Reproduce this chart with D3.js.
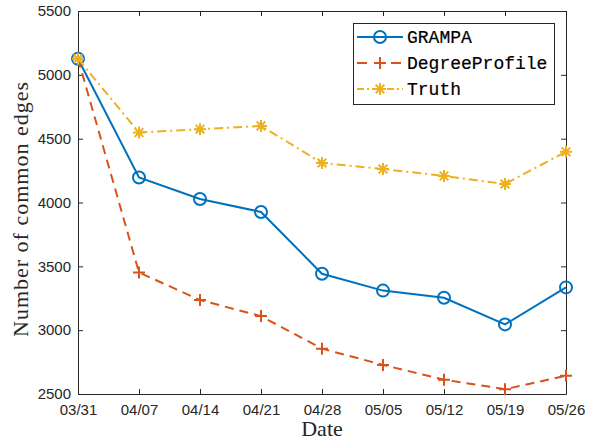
<!DOCTYPE html>
<html>
<head>
<meta charset="utf-8">
<script src="https://cdn.jsdelivr.net/npm/d3@7/dist/d3.min.js"></script>
<style>
  html, body { margin: 0; padding: 0; background: #fff; }
  svg { display: block; }
</style>
</head>
<body>
<svg id="chart" width="589" height="442"></svg>
<script>
// Weekly snapshot dates
const dates = ["03/31", "04/07", "04/14", "04/21", "04/28", "05/05", "05/12", "05/19", "05/26"];
// Number of common edges per method
const grampa        = [5126, 4196, 4028, 3926, 3442, 3310, 3254, 3045, 3335];
const degreeProfile = [5126, 3452, 3236, 3110, 2855, 2728, 2612, 2538, 2643];
const truth         = [5126, 4548, 4574, 4600, 4310, 4262, 4208, 4145, 4398];
const yTicks = [2500, 3000, 3500, 4000, 4500, 5000, 5500];

const series = [
  { name: "GRAMPA", values: grampa, color: "#0072BD", dash: null, marker: "circle" },
  { name: "DegreeProfile", values: degreeProfile, color: "#D95319", dash: "9,6", marker: "plus" },
  { name: "Truth", values: truth, color: "#EDB120", dash: "9,4,2,4", marker: "star" }
];

const svg = d3.select("#chart");
const plot = { left: 78, right: 566, top: 11, bottom: 394 };
const axisColor = "#262626";

const x = d3.scalePoint().domain(dates).range([plot.left, plot.right]);
const y = d3.scaleLinear().domain([2500, 5500]).range([plot.bottom, plot.top]);

// Axes: ticks point inward, on all four sides
const tickFont = "'Liberation Sans', Arial, sans-serif";
const gx = svg.append("g").attr("transform", `translate(0,${plot.bottom})`)
  .call(d3.axisBottom(x).tickSizeInner(-5).tickSizeOuter(0).tickPadding(10));
const gxTop = svg.append("g").attr("transform", `translate(0,${plot.top})`)
  .call(d3.axisTop(x).tickSizeInner(-5).tickSizeOuter(0).tickFormat(""));
const gy = svg.append("g").attr("transform", `translate(${plot.left},0)`)
  .call(d3.axisLeft(y).tickValues(yTicks).tickSizeInner(-5).tickSizeOuter(0).tickPadding(7).tickFormat(d3.format("d")));
const gyRight = svg.append("g").attr("transform", `translate(${plot.right},0)`)
  .call(d3.axisRight(y).tickValues(yTicks).tickSizeInner(-5).tickSizeOuter(0).tickFormat(""));

[gx, gxTop, gy, gyRight].forEach(g => {
  g.select(".domain").attr("stroke", axisColor).attr("stroke-width", 1);
  g.selectAll(".tick line").attr("stroke", axisColor).attr("stroke-width", 1);
  g.selectAll(".tick text").attr("fill", axisColor)
    .style("font-family", tickFont).style("font-size", "15px");
});
gx.selectAll(".tick text").attr("dy", "0.71em");

// Axis titles
const serif = "'Liberation Serif', 'Times New Roman', serif";
svg.append("text")
  .attr("x", (plot.left + plot.right) / 2).attr("y", 436)
  .attr("text-anchor", "middle")
  .style("font-family", serif).style("font-size", "22px")
  .attr("fill", axisColor)
  .text("Date");
svg.append("text")
  .attr("transform", `translate(28,209) rotate(-90)`)
  .attr("text-anchor", "middle")
  .style("font-family", serif).style("font-size", "22px")
  .style("letter-spacing", "1px")
  .attr("fill", axisColor)
  .text("Number of common edges");

// Marker drawing
function drawMarker(g, kind, cx, cy, color) {
  if (kind === "circle") {
    g.append("circle").attr("cx", cx).attr("cy", cy).attr("r", 6)
      .attr("fill", "none").attr("stroke", color).attr("stroke-width", 2);
  } else if (kind === "plus") {
    const s = 6;
    g.append("path").attr("d", `M${cx - s},${cy}H${cx + s}M${cx},${cy - s}V${cy + s}`)
      .attr("stroke", color).attr("stroke-width", 2).attr("fill", "none");
  } else {
    const s = 6, d = s * 0.72;
    g.append("path")
      .attr("d", `M${cx - s},${cy}H${cx + s}M${cx},${cy - s}V${cy + s}` +
                 `M${cx - d},${cy - d}L${cx + d},${cy + d}M${cx - d},${cy + d}L${cx + d},${cy - d}`)
      .attr("stroke", color).attr("stroke-width", 2).attr("fill", "none");
  }
}

const line = d3.line().x((d, i) => x(dates[i])).y(d => y(d));

series.forEach(s => {
  const g = svg.append("g");
  g.append("path").datum(s.values)
    .attr("d", line)
    .attr("fill", "none")
    .attr("stroke", s.color)
    .attr("stroke-width", 2)
    .attr("stroke-dasharray", s.dash);
  s.values.forEach((v, i) => drawMarker(g, s.marker, x(dates[i]), y(v), s.color));
});

// Legend
const lg = svg.append("g");
lg.append("rect").attr("x", 353.5).attr("y", 23.5).attr("width", 201).attr("height", 81)
  .attr("fill", "#fff").attr("stroke", axisColor).attr("stroke-width", 1);
const rowY = [37, 63, 89];
series.forEach((s, i) => {
  const yy = rowY[i];
  lg.append("path").attr("d", `M357,${yy}H403`)
    .attr("stroke", s.color).attr("stroke-width", 2)
    .attr("stroke-dasharray", s.dash ? (s.marker === "plus" ? "10,7" : "7,3,2,3") : null)
    .attr("fill", "none");
  drawMarker(lg, s.marker, 380, yy, s.color);
  lg.append("text").attr("x", 407).attr("y", yy).attr("dy", "0.36em")
    .style("font-family", "'Liberation Mono', 'Courier New', monospace")
    .style("font-size", "18px")
    .attr("fill", "#000").attr("stroke", "#000").attr("stroke-width", 0.2)
    .text(s.name);
});
</script>
</body>
</html>
